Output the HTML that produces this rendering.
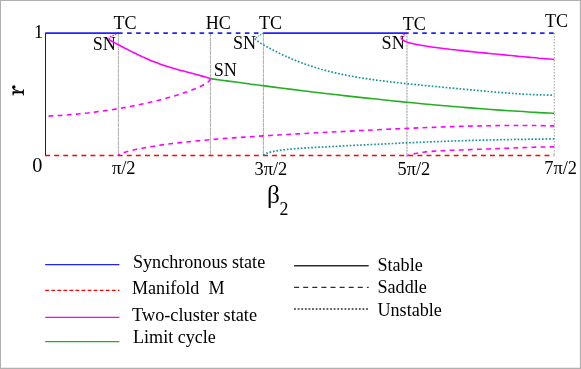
<!DOCTYPE html>
<html><head><meta charset="utf-8"><title>Bifurcation diagram</title>
<style>
html,body{margin:0;padding:0;background:#fff;}
body{width:581px;height:369px;overflow:hidden;position:relative;font-family:"Liberation Serif",serif;}
svg{position:absolute;left:0;top:0;display:block;}
text{font-family:"Liberation Serif",serif;fill:#000;}
</style></head><body>
<svg style="will-change:transform" width="581" height="369" viewBox="0 0 581 369">
<rect x="0" y="0" width="581" height="369" fill="#fff"/>
<path d="M0,0H581V369H0Z M1,1V367.75H579.85V1Z" fill="#b0b0b0" fill-rule="evenodd"/>
<!-- vertical guide lines -->
<g stroke="#8a8a8a" stroke-width="0.8" fill="none">
<line x1="118.4" y1="33.0" x2="118.4" y2="155.5" stroke-dasharray="4,0.5" stroke="#969696"/>
<line x1="210.4" y1="33.0" x2="210.4" y2="155.5" stroke-dasharray="4,0.5" stroke="#969696"/>
<line x1="263.4" y1="33.0" x2="263.4" y2="155.5" stroke-dasharray="4,0.5" stroke="#969696"/>
<line x1="406.9" y1="33.0" x2="406.9" y2="155.5" stroke="#e2e2e2" stroke-width="1.5"/>
<line x1="406.9" y1="33.0" x2="406.9" y2="155.5" stroke="#b4b4b4" stroke-width="1.2" stroke-dasharray="1.5,1.5"/>
<line x1="554.3" y1="33.0" x2="554.3" y2="155.5" stroke-dasharray="1.5,1.5"/>
</g>
<!-- y axis -->
<line x1="45.5" y1="33.0" x2="45.5" y2="155.5" stroke="#222" stroke-width="1"/>
<!-- red manifold -->
<line x1="45.1" y1="155.5" x2="554.3" y2="155.5" stroke="#ff0000" stroke-width="1.5" stroke-dasharray="4.9,4.18"/>
<!-- annotations -->
<g font-size="18.1">
<text x="113.5" y="28.7">TC</text>
<text x="205.7" y="28.7">HC</text>
<text x="259.0" y="29.0">TC</text>
<text x="402.8" y="29.8">TC</text>
<text x="545" y="26.9">TC</text>
<text x="92.8" y="50.2">SN</text>
<text x="213.8" y="75.7">SN</text>
<text x="233.0" y="49.3">SN</text>
<text x="381.6" y="49.0">SN</text>
</g>
<!-- curves -->
<g fill="none" stroke-width="1.6">
<path d="M210.4,78.5 C210.4,78.6 210.4,78.9 210.3,79.2 C210.2,79.4 210.1,79.6 210.0,79.9 C209.8,80.1 209.7,80.3 209.4,80.6 C209.2,80.8 209.0,81.1 208.7,81.4 C208.4,81.6 208.1,81.9 207.7,82.2 C207.4,82.4 207.0,82.7 206.6,83.0 C206.1,83.3 205.7,83.6 205.2,83.9 C204.7,84.2 204.2,84.5 203.6,84.8 C203.0,85.1 202.4,85.4 201.8,85.7 C201.1,86.0 200.5,86.4 199.8,86.7 C199.1,87.0 198.3,87.4 197.5,87.7 C196.7,88.0 195.9,88.4 195.1,88.7 C194.2,89.1 193.3,89.4 192.4,89.8 C191.5,90.2 190.5,90.5 189.6,90.9 C188.6,91.3 187.5,91.6 186.5,92.0 C185.4,92.4 184.3,92.7 183.2,93.1 C182.0,93.5 180.9,93.9 179.7,94.3 C178.5,94.7 177.2,95.0 175.9,95.4 C174.7,95.8 173.3,96.2 172.0,96.6 C170.7,97.0 169.3,97.4 167.8,97.8 C166.4,98.2 165.0,98.6 163.5,99.0 C162.0,99.4 160.5,99.8 158.9,100.2 C157.4,100.6 155.8,101.0 154.1,101.4 C152.5,101.7 150.8,102.1 149.1,102.5 C147.4,102.9 145.7,103.3 143.9,103.7 C142.1,104.1 140.3,104.5 138.5,104.9 C136.6,105.2 134.8,105.6 132.9,106.0 C130.9,106.4 129.0,106.7 127.0,107.1 C125.0,107.5 123.0,107.8 120.9,108.2 C118.9,108.5 116.8,108.9 114.7,109.2 C112.5,109.6 110.4,109.9 108.2,110.2 C106.0,110.6 103.7,110.9 101.5,111.2 C99.2,111.5 96.9,111.8 94.6,112.1 C92.2,112.4 89.8,112.7 87.4,113.0 C85.0,113.2 82.6,113.5 80.1,113.7 C77.6,114.0 75.1,114.2 72.5,114.5 C70.0,114.7 67.4,114.9 64.8,115.1 C62.1,115.3 59.5,115.5 56.8,115.6 C54.1,115.8 50.0,116.0 48.6,116.1" stroke="#ff00ff" stroke-dasharray="4.8,4.3"/>
<path d="M118.4,155.3 C118.4,155.2 118.5,155.0 118.7,154.8 C118.9,154.7 119.2,154.5 119.5,154.3 C119.9,154.1 120.4,153.8 121.0,153.6 C121.6,153.4 122.2,153.1 123.0,152.9 C123.7,152.6 124.6,152.3 125.6,152.1 C126.5,151.8 127.6,151.5 128.7,151.2 C129.9,150.9 131.1,150.6 132.4,150.3 C133.8,149.9 135.2,149.6 136.7,149.3 C138.3,149.0 139.9,148.6 141.6,148.3 C143.3,148.0 145.1,147.6 147.1,147.3 C149.0,147.0 151.0,146.6 153.1,146.3 C155.2,145.9 157.4,145.6 159.7,145.3 C162.0,144.9 164.3,144.6 166.8,144.3 C169.3,143.9 171.9,143.6 174.6,143.3 C177.2,143.0 180.0,142.6 182.9,142.3 C185.7,142.0 188.7,141.7 191.8,141.4 C194.8,141.1 198.0,140.8 201.2,140.5 C204.5,140.2 207.8,139.9 211.3,139.6 C214.7,139.3 218.2,139.0 221.9,138.7 C225.5,138.4 229.2,138.2 233.0,137.9 C236.9,137.6 240.8,137.3 244.8,137.1 C248.8,136.8 252.9,136.5 257.1,136.3 C261.3,136.0 265.6,135.7 270.0,135.5 C274.4,135.2 278.9,134.9 283.5,134.7 C288.1,134.4 292.7,134.2 297.5,133.9 C302.3,133.6 307.2,133.4 312.1,133.1 C317.1,132.8 322.2,132.5 327.3,132.3 C332.5,132.0 337.7,131.7 343.1,131.5 C348.4,131.2 353.9,130.9 359.4,130.6 C365.0,130.3 370.6,130.1 376.3,129.8 C382.1,129.5 387.9,129.2 393.8,129.0 C399.7,128.7 405.8,128.4 411.9,128.2 C418.0,127.9 424.2,127.6 430.5,127.4 C436.8,127.2 443.2,126.9 449.7,126.7 C456.2,126.5 462.8,126.3 469.5,126.1 C476.2,126.0 482.9,125.8 489.8,125.7 C496.7,125.6 503.7,125.5 510.7,125.5 C517.8,125.4 525.0,125.5 532.2,125.5 C539.5,125.6 550.6,125.9 554.3,125.9" stroke="#ff00ff" stroke-dasharray="4.8,4.3" stroke-dashoffset="3"/>
<path d="M406.9,155.4 C406.9,155.4 406.9,155.5 407.0,155.6 C407.1,155.6 407.2,155.6 407.3,155.6 C407.4,155.6 407.6,155.5 407.8,155.5 C408.0,155.5 408.2,155.4 408.5,155.3 C408.7,155.2 409.0,155.1 409.3,155.0 C409.6,155.0 410.0,154.8 410.4,154.7 C410.8,154.6 411.2,154.5 411.6,154.4 C412.1,154.3 412.6,154.1 413.1,154.0 C413.6,153.9 414.2,153.8 414.7,153.6 C415.3,153.5 415.9,153.4 416.6,153.3 C417.2,153.1 417.9,153.0 418.6,152.9 C419.3,152.8 420.1,152.7 420.9,152.5 C421.6,152.4 422.4,152.3 423.3,152.2 C424.1,152.1 425.0,152.0 425.9,151.9 C426.8,151.8 427.7,151.7 428.7,151.6 C429.7,151.5 430.7,151.4 431.7,151.4 C432.7,151.3 433.8,151.2 434.9,151.1 C436.0,151.0 437.1,151.0 438.3,150.9 C439.5,150.8 440.7,150.8 441.9,150.7 C443.1,150.6 444.4,150.6 445.7,150.5 C447.0,150.5 448.3,150.4 449.6,150.3 C451.0,150.3 452.4,150.2 453.8,150.2 C455.2,150.1 456.7,150.1 458.2,150.0 C459.7,150.0 461.2,149.9 462.7,149.9 C464.3,149.8 465.9,149.8 467.5,149.7 C469.1,149.6 470.7,149.6 472.4,149.5 C474.1,149.5 475.8,149.4 477.5,149.3 C479.3,149.3 481.1,149.2 482.9,149.2 C484.7,149.1 486.5,149.0 488.4,149.0 C490.3,148.9 492.2,148.8 494.1,148.7 C496.1,148.7 498.0,148.6 500.0,148.5 C502.0,148.4 504.1,148.3 506.1,148.3 C508.2,148.2 510.3,148.1 512.4,148.0 C514.6,147.9 516.7,147.8 518.9,147.8 C521.1,147.7 523.4,147.6 525.6,147.5 C527.9,147.4 530.2,147.4 532.5,147.3 C534.8,147.2 537.2,147.1 539.6,147.1 C542.0,147.0 544.4,147.0 546.8,146.9 C549.3,146.9 553.1,146.8 554.3,146.8" stroke="#ff00ff" stroke-dasharray="4.8,4.3" stroke-dashoffset="2.1"/>
<path d="M263.4,33.0 C262.7,33.4 260.7,34.8 259.4,35.6 C258.1,36.5 256.1,37.7 255.5,38.1" stroke="#1a9696" stroke-width="1.15" stroke-dasharray="1.3,1.1"/>
<path d="M255.3,38.3 C255.3,38.4 255.3,38.6 255.4,38.8 C255.4,39.0 255.5,39.2 255.6,39.3 C255.8,39.5 255.9,39.7 256.1,39.8 C256.2,40.0 256.4,40.2 256.7,40.4 C256.9,40.6 257.2,40.8 257.4,41.0 C257.7,41.2 258.0,41.4 258.4,41.6 C258.7,41.9 259.1,42.1 259.5,42.4 C259.9,42.6 260.3,42.9 260.8,43.2 C261.3,43.4 261.7,43.7 262.3,44.0 C262.8,44.3 263.3,44.7 263.9,45.0 C264.5,45.3 265.1,45.7 265.7,46.0 C266.3,46.4 267.0,46.7 267.7,47.1 C268.4,47.5 269.1,47.9 269.8,48.3 C270.6,48.7 271.3,49.1 272.1,49.5 C272.9,50.0 273.8,50.4 274.6,50.8 C275.5,51.3 276.4,51.7 277.3,52.2 C278.2,52.7 279.2,53.1 280.1,53.6 C281.1,54.1 282.1,54.6 283.1,55.1 C284.2,55.5 285.2,56.0 286.3,56.5 C287.4,57.0 288.5,57.5 289.7,58.0 C290.8,58.5 292.0,59.0 293.2,59.5 C294.4,60.0 295.6,60.5 296.9,61.0 C298.1,61.5 299.4,62.0 300.7,62.5 C302.1,63.0 303.4,63.5 304.8,64.0 C306.1,64.5 307.6,65.0 309.0,65.5 C310.4,66.0 311.9,66.4 313.4,66.9 C314.9,67.4 316.4,67.9 317.9,68.3 C319.5,68.8 321.0,69.2 322.6,69.7 C324.2,70.1 325.9,70.5 327.5,71.0 C329.2,71.4 330.9,71.8 332.6,72.2 C334.3,72.6 336.1,73.0 337.8,73.4 C339.6,73.8 341.4,74.2 343.3,74.6 C345.1,75.0 346.9,75.3 348.8,75.7 C350.7,76.1 352.6,76.4 354.6,76.8 C356.5,77.1 358.5,77.4 360.5,77.8 C362.5,78.1 364.6,78.4 366.6,78.7 C368.7,79.0 370.8,79.3 372.9,79.6 C375.0,79.9 377.2,80.2 379.3,80.5 C381.5,80.8 383.7,81.0 385.9,81.3 C388.2,81.6 390.4,81.9 392.7,82.1 C395.0,82.4 397.3,82.6 399.7,82.9 C402.0,83.2 404.4,83.4 406.8,83.7 C409.2,83.9 411.7,84.2 414.1,84.4 C416.6,84.7 419.1,84.9 421.6,85.2 C424.1,85.4 426.7,85.7 429.2,85.9 C431.8,86.2 434.4,86.4 437.1,86.7 C439.7,86.9 442.4,87.2 445.0,87.4 C447.7,87.7 450.5,88.0 453.2,88.2 C456.0,88.5 458.7,88.7 461.5,89.0 C464.3,89.3 467.2,89.5 470.0,89.8 C472.9,90.1 475.8,90.3 478.7,90.6 C481.6,90.9 484.6,91.1 487.6,91.4 C490.5,91.6 493.5,91.9 496.6,92.2 C499.6,92.4 502.7,92.7 505.8,92.9 C508.9,93.1 512.0,93.4 515.1,93.6 C518.3,93.8 521.5,94.0 524.7,94.2 C527.9,94.4 531.1,94.5 534.4,94.7 C537.6,94.8 540.9,94.9 544.3,95.0 C547.6,95.1 552.6,95.1 554.3,95.2" stroke="#1a9696" stroke-width="1.7" stroke-dasharray="1.7,1.8"/>
<path d="M263.4,155.3 C263.4,155.2 263.5,155.1 263.6,154.9 C263.7,154.8 263.9,154.6 264.2,154.5 C264.4,154.3 264.7,154.1 265.1,153.9 C265.5,153.7 266.0,153.5 266.5,153.3 C267.0,153.1 267.5,152.9 268.2,152.7 C268.8,152.5 269.5,152.3 270.3,152.1 C271.1,151.9 271.9,151.7 272.8,151.6 C273.7,151.4 274.6,151.2 275.6,151.0 C276.7,150.8 277.7,150.6 278.9,150.5 C280.0,150.3 281.3,150.1 282.5,150.0 C283.8,149.8 285.1,149.7 286.5,149.5 C287.9,149.4 289.4,149.2 290.9,149.1 C292.5,149.0 294.1,148.8 295.7,148.7 C297.4,148.6 299.1,148.4 300.9,148.3 C302.7,148.2 304.5,148.1 306.4,147.9 C308.3,147.8 310.3,147.7 312.4,147.6 C314.4,147.5 316.5,147.3 318.7,147.2 C320.8,147.1 323.1,147.0 325.4,146.9 C327.7,146.7 330.0,146.6 332.4,146.5 C334.9,146.4 337.4,146.2 339.9,146.1 C342.5,146.0 345.1,145.8 347.7,145.7 C350.4,145.6 353.2,145.4 356.0,145.3 C358.8,145.2 361.6,145.0 364.6,144.9 C367.5,144.7 370.5,144.6 373.6,144.4 C376.6,144.3 379.7,144.1 382.9,144.0 C386.1,143.8 389.4,143.7 392.7,143.5 C396.0,143.4 399.4,143.2 402.8,143.0 C406.3,142.9 409.8,142.7 413.3,142.6 C416.9,142.4 420.5,142.3 424.2,142.1 C427.9,142.0 431.7,141.8 435.5,141.7 C439.4,141.5 443.2,141.4 447.2,141.2 C451.1,141.1 455.2,140.9 459.2,140.8 C463.3,140.7 467.5,140.6 471.7,140.4 C475.9,140.3 480.2,140.2 484.5,140.1 C488.8,140.0 493.2,139.9 497.7,139.8 C502.2,139.7 506.7,139.6 511.3,139.5 C515.9,139.4 520.5,139.4 525.2,139.3 C529.9,139.2 534.7,139.1 539.6,139.1 C544.4,139.0 551.8,138.9 554.3,138.9" stroke="#1a9696" stroke-width="1.7" stroke-dasharray="1.7,1.8"/>
<path d="M210.4,78.6 C213.4,79.0 222.5,80.3 228.5,81.1 C234.5,81.9 240.6,82.7 246.6,83.5 C252.6,84.4 258.7,85.2 264.7,85.9 C270.7,86.7 276.8,87.5 282.8,88.3 C288.8,89.0 294.9,89.8 300.9,90.5 C306.9,91.3 313.0,92.0 319.0,92.7 C325.0,93.4 331.1,94.1 337.1,94.8 C343.1,95.5 349.2,96.2 355.2,96.9 C361.2,97.5 367.3,98.2 373.3,98.8 C379.3,99.5 385.4,100.1 391.4,100.7 C397.4,101.3 403.5,101.9 409.5,102.5 C415.5,103.1 421.6,103.7 427.6,104.2 C433.6,104.8 439.7,105.3 445.7,105.8 C451.7,106.4 457.8,106.9 463.8,107.4 C469.8,107.9 475.9,108.3 481.9,108.8 C487.9,109.2 494.0,109.7 500.0,110.1 C506.0,110.5 512.1,110.9 518.1,111.3 C524.1,111.7 530.2,112.1 536.2,112.4 C542.2,112.8 551.3,113.2 554.3,113.4" stroke="#22b022"/>
<path d="M109.0,38.3 C109.0,38.4 109.0,38.6 109.1,38.8 C109.1,38.9 109.2,39.1 109.3,39.2 C109.4,39.4 109.5,39.5 109.6,39.7 C109.7,39.8 109.9,40.0 110.1,40.1 C110.2,40.3 110.4,40.4 110.7,40.6 C110.9,40.7 111.1,40.9 111.4,41.0 C111.7,41.2 112.0,41.4 112.3,41.6 C112.6,41.7 112.9,41.9 113.3,42.1 C113.6,42.3 114.0,42.5 114.4,42.7 C114.8,42.9 115.2,43.1 115.7,43.4 C116.1,43.6 116.6,43.8 117.1,44.1 C117.6,44.4 118.1,44.6 118.6,44.9 C119.1,45.2 119.7,45.5 120.3,45.8 C120.8,46.1 121.4,46.4 122.1,46.7 C122.7,47.0 123.3,47.3 124.0,47.7 C124.7,48.0 125.4,48.4 126.1,48.8 C126.8,49.1 127.5,49.5 128.3,49.9 C129.0,50.3 129.8,50.7 130.6,51.1 C131.4,51.5 132.2,51.9 133.1,52.3 C133.9,52.7 134.8,53.2 135.7,53.6 C136.6,54.0 137.5,54.5 138.4,54.9 C139.3,55.4 140.3,55.8 141.3,56.3 C142.2,56.7 143.2,57.2 144.3,57.6 C145.3,58.1 146.3,58.5 147.4,59.0 C148.5,59.5 149.6,59.9 150.7,60.4 C151.8,60.8 152.9,61.3 154.1,61.7 C155.2,62.2 156.4,62.6 157.6,63.1 C158.8,63.5 160.0,64.0 161.3,64.4 C162.5,64.8 163.8,65.3 165.1,65.7 C166.4,66.1 167.7,66.5 169.0,67.0 C170.3,67.4 171.7,67.8 173.1,68.2 C174.4,68.6 175.8,69.0 177.3,69.4 C178.7,69.8 180.1,70.2 181.6,70.6 C183.1,71.0 184.6,71.4 186.1,71.8 C187.6,72.2 189.1,72.6 190.7,73.0 C192.2,73.4 193.8,73.8 195.4,74.3 C197.0,74.7 198.6,75.1 200.3,75.6 C201.9,76.0 203.6,76.5 205.3,77.0 C207.0,77.5 209.5,78.3 210.4,78.6" stroke="#ff00ff"/>
<path d="M401.1,37.4 C401.1,37.5 401.1,37.9 401.2,38.1 C401.3,38.3 401.4,38.5 401.5,38.7 C401.6,38.9 401.8,39.1 402.0,39.3 C402.2,39.5 402.4,39.7 402.7,39.9 C403.0,40.1 403.3,40.3 403.6,40.5 C404.0,40.7 404.3,40.9 404.7,41.1 C405.1,41.3 405.6,41.5 406.0,41.6 C406.5,41.8 407.0,42.0 407.5,42.2 C408.1,42.4 408.7,42.5 409.3,42.7 C409.9,42.9 410.5,43.0 411.2,43.2 C411.8,43.4 412.5,43.6 413.3,43.7 C414.0,43.9 414.8,44.1 415.6,44.2 C416.4,44.4 417.2,44.6 418.1,44.7 C419.0,44.9 419.9,45.1 420.8,45.2 C421.8,45.4 422.8,45.6 423.8,45.7 C424.8,45.9 425.8,46.1 426.9,46.2 C428.0,46.4 429.1,46.6 430.2,46.7 C431.4,46.9 432.5,47.0 433.7,47.2 C434.9,47.4 436.2,47.6 437.5,47.7 C438.7,47.9 440.0,48.1 441.4,48.2 C442.7,48.4 444.1,48.6 445.5,48.7 C446.9,48.9 448.4,49.1 449.9,49.3 C451.3,49.4 452.8,49.6 454.4,49.8 C455.9,50.0 457.5,50.1 459.1,50.3 C460.7,50.5 462.4,50.7 464.1,50.9 C465.7,51.0 467.4,51.2 469.2,51.4 C470.9,51.6 472.7,51.8 474.5,52.0 C476.3,52.2 478.2,52.3 480.1,52.5 C481.9,52.7 483.9,52.9 485.8,53.1 C487.8,53.3 489.7,53.5 491.8,53.7 C493.8,53.9 495.8,54.1 497.9,54.3 C500.0,54.5 502.1,54.7 504.2,54.9 C506.4,55.1 508.6,55.3 510.8,55.5 C513.0,55.8 515.3,56.0 517.5,56.2 C519.8,56.4 522.1,56.6 524.5,56.8 C526.8,57.0 529.2,57.3 531.6,57.5 C534.1,57.7 536.5,57.9 539.0,58.2 C541.5,58.4 544.0,58.6 546.5,58.8 C549.1,59.1 553.0,59.4 554.3,59.5" stroke="#ff00ff"/>
<path d="M118.4,32.8 C118.0,33.0 116.8,33.6 116.0,34.0 C115.2,34.4 114.6,34.7 113.8,35.1 C113.0,35.5 111.8,35.9 111.1,36.3 C110.4,36.6 109.9,36.9 109.6,37.2 C109.2,37.5 109.1,38.1 109.0,38.3" stroke="#ff00ff" stroke-width="1.5" stroke-dasharray="1.4,1.2"/>
<path d="M406.8,32.8 C406.3,33.1 404.9,34.0 404.0,34.6 C403.1,35.2 402.1,35.9 401.6,36.4 C401.1,36.9 401.2,37.2 401.1,37.4" stroke="#ff00ff" stroke-width="1.4" stroke-dasharray="1.4,1.2"/>
</g>
<!-- blue sync -->
<g stroke="#2222ff" stroke-width="1.75" fill="none">
<line x1="45.2" y1="33.0" x2="118.4" y2="33.0"/>
<line x1="118" y1="33.0" x2="263.4" y2="33.0" stroke-dasharray="4.6,4.46"/>
<line x1="263.4" y1="33.0" x2="406.9" y2="33.0"/>
<line x1="406.9" y1="33.0" x2="554.3" y2="33.0" stroke-dasharray="4.6,4.46" stroke-dashoffset="2.8"/>
</g>
<g font-size="18.4">
<text x="34" y="37.9">1</text>
<text x="32.3" y="172.2" font-size="20.3">0</text>
<text x="111.9" y="173.9">π/2</text>
<text x="254.5" y="175">3π/2</text>
<text x="397.5" y="174.9">5π/2</text>
<text x="544.2" y="174">7π/2</text>
</g>
<text x="267.0" y="202.6" font-size="25.3">β</text>
<text x="279.5" y="214.5" font-size="17.8">2</text>
<g fill="#000" stroke="none">
<path d="M23.9,89.3 L23.9,95.4 L23.1,95.4 C23,94.1 22.6,93.4 21.8,93.3 L14.8,93.3 C13.9,93.4 13.6,94.3 13.5,95.6 L12.6,95.6 L12.4,91.4 L13.2,91.2 L21.8,91.3 C22.6,91.2 23,90.5 23.1,89.3 Z"/>
<path d="M20,91.3 C17,91.2 14.2,90.6 12.9,88.9 C12.3,88 12.2,87 12.6,86.3 L13.6,87.6 C13.9,88.6 15.2,89.7 17.2,90.3 C18.3,90.7 19.4,90.9 20.5,91.2 Z"/>
<circle cx="13.9" cy="86.9" r="1.65"/>
</g>
<!-- legend left -->
<g stroke-width="1.3" fill="none">
<line x1="45.2" y1="264.6" x2="119.4" y2="264.6" stroke="#2222ff"/>
<line x1="45.2" y1="290.3" x2="119.4" y2="290.3" stroke="#ff0000" stroke-dasharray="3.7,2.36"/>
<line x1="45.2" y1="317.3" x2="119.4" y2="317.3" stroke="#ff00ff"/>
<line x1="45.2" y1="341.7" x2="119.4" y2="341.7" stroke="#22b022"/>
</g>
<g font-size="18.1">
<text x="133" y="268.1">Synchronous state</text>
<text x="132" y="294.0" xml:space="preserve">Manifold  M</text>
<text x="132.1" y="321.4" font-size="18.25">Two-cluster state</text>
<text x="133" y="343">Limit cycle</text>
<text x="377.5" y="271.1">Stable</text>
<text x="377.5" y="293">Saddle</text>
<text x="377.5" y="316.4">Unstable</text>
</g>
<g stroke="#2e2e2e" stroke-width="1.4" fill="none">
<line x1="294.1" y1="265.8" x2="368.7" y2="265.8"/>
<line x1="294.1" y1="287.4" x2="368.7" y2="287.4" stroke-dasharray="5,4.1"/>
<line x1="294.1" y1="309" x2="368.7" y2="309" stroke-dasharray="1.8,1.8"/>
</g>
</svg>
</body></html>
